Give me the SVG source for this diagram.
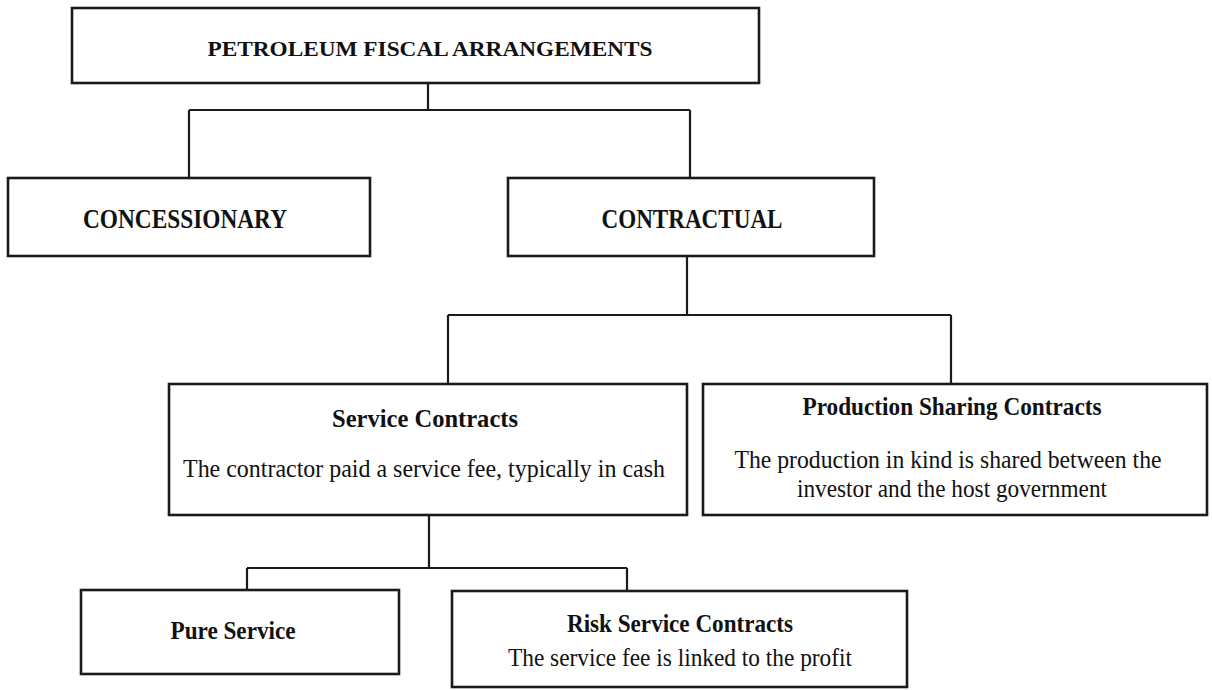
<svg xmlns="http://www.w3.org/2000/svg" width="1212" height="690" viewBox="0 0 1212 690">
<style>
.box{fill:#fff;stroke:#1a1a1a;stroke-width:2.6}
.con{fill:none;stroke:#1a1a1a;stroke-width:2.2}
.t{font-family:"Liberation Serif","Times New Roman",serif;fill:#111;text-anchor:middle}
.b{font-weight:bold}
</style>
<rect width="1212" height="690" fill="#fff"/>
<g id="connectors">
<path class="con" d="M428 82V110M189 110H690M189 110V178M690 110V178"/>
<path class="con" d="M687 256V315M448 315H951M448 315V384M951 315V384"/>
<path class="con" d="M429 515V568M247 568H627M247 568V590M627 568V590"/>
</g>
<g id="petroleum">
<rect class="box" x="72" y="8" width="687" height="75"/>
<text class="t b" x="430" y="56" font-size="22" textLength="445" lengthAdjust="spacingAndGlyphs">PETROLEUM FISCAL ARRANGEMENTS</text>
</g>
<g id="concessionary">
<rect class="box" x="8" y="178" width="362" height="78"/>
<text class="t b" x="185" y="228" font-size="27" textLength="204" lengthAdjust="spacingAndGlyphs">CONCESSIONARY</text>
</g>
<g id="contractual">
<rect class="box" x="508" y="178" width="366" height="78"/>
<text class="t b" x="692" y="228" font-size="27" textLength="181" lengthAdjust="spacingAndGlyphs">CONTRACTUAL</text>
</g>
<g id="service">
<rect class="box" x="169" y="384" width="518" height="131"/>
<text class="t b" x="425" y="427" font-size="25" textLength="186" lengthAdjust="spacingAndGlyphs">Service Contracts</text>
<text class="t" x="424" y="477" font-size="25" textLength="482" lengthAdjust="spacingAndGlyphs">The contractor paid a service fee, typically in cash</text>
</g>
<g id="psc">
<rect class="box" x="703" y="384" width="504" height="131"/>
<text class="t b" x="952" y="415" font-size="25" textLength="299" lengthAdjust="spacingAndGlyphs">Production Sharing Contracts</text>
<text class="t" x="948" y="468" font-size="25" textLength="427" lengthAdjust="spacingAndGlyphs">The production in kind is shared between the</text>
<text class="t" x="952" y="497" font-size="25" textLength="310" lengthAdjust="spacingAndGlyphs">investor and the host government</text>
</g>
<g id="pure">
<rect class="box" x="81" y="590" width="318" height="84"/>
<text class="t b" x="233" y="639" font-size="25" textLength="125" lengthAdjust="spacingAndGlyphs">Pure Service</text>
</g>
<g id="risk">
<rect class="box" x="452" y="591" width="455" height="96"/>
<text class="t b" x="680" y="632" font-size="25" textLength="226" lengthAdjust="spacingAndGlyphs">Risk Service Contracts</text>
<text class="t" x="680" y="666" font-size="25" textLength="344" lengthAdjust="spacingAndGlyphs">The service fee is linked to the profit</text>
</g>
</svg>
